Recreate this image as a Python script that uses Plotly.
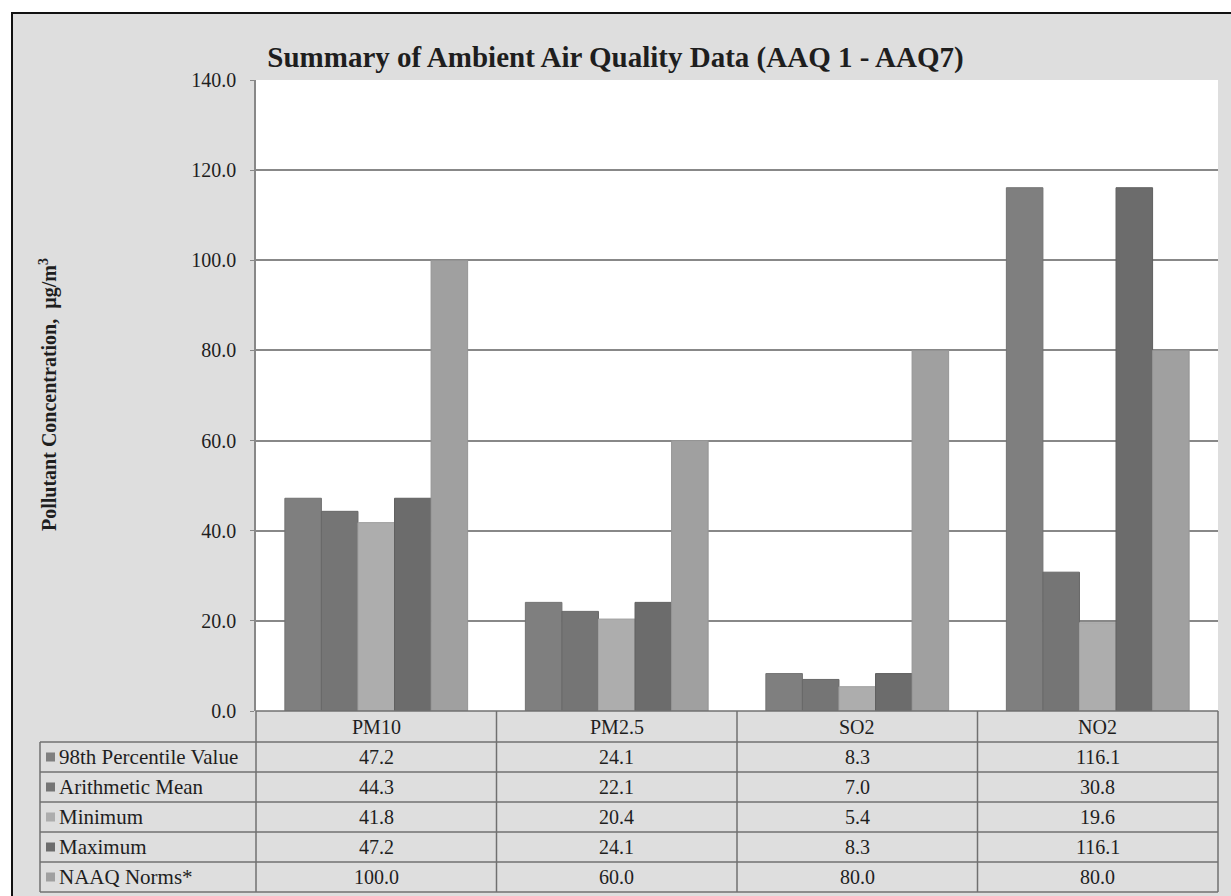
import plotly.graph_objects as go

# Ambient air quality summary, AAQ 1 - AAQ7 (µg/m³)
categories = ["PM10", "PM2.5", "SO2", "NO2"]
series_names = ["98th Percentile Value", "Arithmetic Mean", "Minimum", "Maximum", "NAAQ Norms*"]
percentile_98 = [47.2, 24.1, 8.3, 116.1]
arithmetic_mean = [44.3, 22.1, 7.0, 30.8]
minimum = [41.8, 20.4, 5.4, 19.6]
maximum = [47.2, 24.1, 8.3, 116.1]
naaq_norms = [100.0, 60.0, 80.0, 80.0]
y_ticks = [0, 20, 40, 60, 80, 100, 120, 140]

series_values = [percentile_98, arithmetic_mean, minimum, maximum, naaq_norms]
bar_colors = ["#7f7f7f", "#757575", "#adadad", "#6c6c6c", "#a0a0a0"]
edge_colors = ["#727272", "#686868", "#a2a2a2", "#606060", "#959595"]

FONT = "Liberation Serif, Times New Roman, serif"
TEXT = "#1e1e1e"
GRID = "#888888"
TABLE_LINE = "#707070"
PANEL = "#dedede"

W, H = 1231, 896
PLOT_L, PLOT_R, PLOT_T, PLOT_B = 256, 1218, 80, 711


def fx(p):
    """figure pixel column -> paper x"""
    return (p - PLOT_L) / (PLOT_R - PLOT_L)


def fy(p):
    """figure pixel row -> paper y"""
    return (PLOT_B - p) / (PLOT_B - PLOT_T)


fig = go.Figure()
for name, vals, col, edge in zip(series_names, series_values, bar_colors, edge_colors):
    fig.add_trace(go.Bar(
        name=name, x=categories, y=vals,
        marker=dict(color=col, line=dict(color=edge, width=1)),
        showlegend=False,
    ))

shapes = []
# white page outside the chart panel, and the panel's dark frame
shapes.append(dict(type="rect", xref="paper", yref="paper",
                   x0=fx(-5), x1=fx(1240), y0=fy(-5), y1=fy(12),
                   fillcolor="white", line=dict(width=0)))
shapes.append(dict(type="rect", xref="paper", yref="paper",
                   x0=fx(-5), x1=fx(11), y0=fy(-5), y1=fy(905),
                   fillcolor="white", line=dict(width=0)))
shapes.append(dict(type="line", xref="paper", yref="paper",
                   x0=fx(11), x1=fx(1240), y0=fy(13), y1=fy(13),
                   line=dict(color="#111111", width=2)))
shapes.append(dict(type="line", xref="paper", yref="paper",
                   x0=fx(12), x1=fx(12), y0=fy(12), y1=fy(905),
                   line=dict(color="#111111", width=2)))

# data table grid
row_lines = [742, 772, 802, 832, 862, 892]
TABLE_L = 40
shapes.append(dict(type="line", xref="paper", yref="paper",
                   x0=0, x1=1, y0=fy(PLOT_B), y1=fy(PLOT_B),
                   line=dict(color=TABLE_LINE, width=1.5)))
for r in row_lines:
    shapes.append(dict(type="line", xref="paper", yref="paper",
                       x0=fx(TABLE_L), x1=1, y0=fy(r), y1=fy(r),
                       line=dict(color=TABLE_LINE, width=1.5)))
n = len(categories)
for k in range(n + 1):
    shapes.append(dict(type="line", xref="paper", yref="paper",
                       x0=k / n, x1=k / n, y0=fy(PLOT_B), y1=fy(row_lines[-1]),
                       line=dict(color=TABLE_LINE, width=1.5)))
shapes.append(dict(type="line", xref="paper", yref="paper",
                   x0=fx(TABLE_L), x1=fx(TABLE_L), y0=fy(row_lines[0]), y1=fy(row_lines[-1]),
                   line=dict(color=TABLE_LINE, width=1.5)))

annotations = []
# category header row
header_mid = (PLOT_B + row_lines[0]) / 2
for c in categories:
    annotations.append(dict(x=c, xref="x", y=fy(header_mid), yref="paper",
                            text=c, showarrow=False, xanchor="center", yanchor="middle",
                            font=dict(family=FONT, size=20, color=TEXT)))

# one row per series: legend key, name, values
for i, (name, vals, col) in enumerate(zip(series_names, series_values, bar_colors)):
    mid = (row_lines[i] + row_lines[i + 1]) / 2
    shapes.append(dict(type="rect", xref="paper", yref="paper",
                       x0=fx(46), x1=fx(55), y0=fy(mid - 4.5), y1=fy(mid + 4.5),
                       fillcolor=col, line=dict(width=0)))
    annotations.append(dict(x=fx(57), xref="paper", y=fy(mid), yref="paper",
                            text=name, showarrow=False, xanchor="left", yanchor="middle",
                            font=dict(family=FONT, size=21, color=TEXT)))
    for c, v in zip(categories, vals):
        annotations.append(dict(x=c, xref="x", y=fy(mid), yref="paper",
                                text=f"{v:.1f}", showarrow=False,
                                xanchor="center", yanchor="middle",
                                font=dict(family=FONT, size=20, color=TEXT)))

# y-axis title
annotations.append(dict(x=fx(48), xref="paper", y=fy(395), yref="paper",
                        text="Pollutant Concentration,  µg/m<sup>3</sup>",
                        textangle=-90, showarrow=False,
                        xanchor="center", yanchor="middle",
                        font=dict(family=FONT, size=20, color=TEXT, weight="bold")))

fig.update_layout(
    width=W, height=H, autosize=False,
    margin=dict(l=PLOT_L, r=W - PLOT_R, t=PLOT_T, b=H - PLOT_B, pad=0),
    paper_bgcolor=PANEL, plot_bgcolor="white",
    barmode="group", bargap=0.24, bargroupgap=0,
    title=dict(text="<b>Summary of Ambient Air Quality Data (AAQ 1 - AAQ7)</b>",
               x=0.5, xref="container", xanchor="center",
               y=1 - 57 / H, yref="container", yanchor="middle",
               font=dict(family=FONT, size=29, color=TEXT)),
    xaxis=dict(showticklabels=False, showgrid=False, zeroline=False,
               showline=False, ticks=""),
    yaxis=dict(range=[0, 140], tickvals=y_ticks, tickformat=".1f",
               showgrid=True, gridcolor=GRID, gridwidth=1.5,
               zeroline=False, showline=True, linecolor=GRID, linewidth=1.5,
               ticks="outside", ticklen=4, tickcolor=GRID,
               ticklabelstandoff=10,
               tickfont=dict(family=FONT, size=20, color=TEXT)),
    shapes=shapes,
    annotations=annotations,
    showlegend=False,
)

fig.write_html("out.html")
